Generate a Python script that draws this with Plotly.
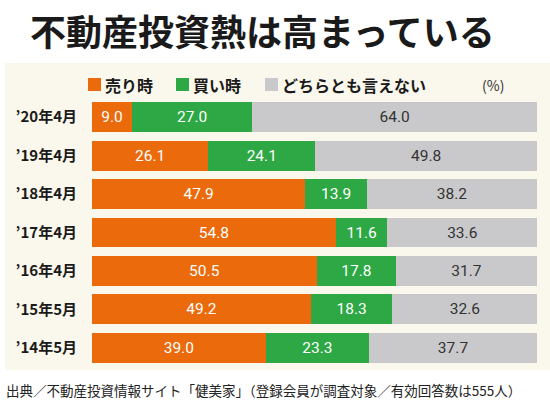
import plotly.graph_objects as go

categories = ["’20年4月", "’19年4月", "’18年4月", "’17年4月", "’16年4月", "’15年5月", "’14年5月"]
series_names = ["売り時", "買い時", "どちらとも言えない"]
sell = [9.0, 26.1, 47.9, 54.8, 50.5, 49.2, 39.0]
buy = [27.0, 24.1, 13.9, 11.6, 17.8, 18.3, 23.3]
neither = [64.0, 49.8, 38.2, 33.6, 31.7, 32.6, 37.7]
title_text = "不動産投資熱は高まっている"
unit_text = "(%)"
source_text = "出典／不動産投資情報サイト「健美家」（登録会員が調査対象／有効回答数は555人）"

colors = ["#EA6A0C", "#2DA844", "#C9C9CB"]
text_colors = ["#FFFFFF", "#FFFFFF", "#333333"]
FONT = "Noto Sans CJK JP"

W, H = 550, 405
L, R, T, B = 92, 13, 98, 38
pw, ph = W - L - R, H - T - B

def px_x(p):
    return (p - L) / pw

def px_y(p):
    return (H - B - p) / ph

fig = go.Figure()
for name, vals, c, tc in zip(series_names, [sell, buy, neither], colors, text_colors):
    fig.add_trace(go.Bar(
        y=categories, x=vals, name=name, orientation="h",
        marker=dict(color=c, line=dict(width=0)),
        text=[f"{v:.1f}" for v in vals], textposition="inside",
        insidetextanchor="middle",
        textfont=dict(family="Roboto", size=15.5, color=tc),
        hoverinfo="skip", showlegend=False,
    ))

shapes = [dict(type="rect", xref="paper", yref="paper", layer="below",
               x0=px_x(5), x1=px_x(550), y0=px_y(370), y1=px_y(63),
               fillcolor="#FAF7EC", line=dict(width=0))]
annotations = [
    dict(text=title_text, xref="paper", yref="paper", x=px_x(262), y=px_y(30),
         xanchor="center", yanchor="middle", showarrow=False,
         font=dict(family=FONT, size=36, color="#1A1A1A", weight="bold")),
    dict(text=source_text, xref="paper", yref="paper", x=px_x(4), y=px_y(390),
         xanchor="left", yanchor="middle", showarrow=False,
         font=dict(family=FONT, size=13.5, color="#222222")),
    dict(text=unit_text, xref="paper", yref="paper", x=px_x(506), y=px_y(85),
         xanchor="right", yanchor="middle", showarrow=False,
         font=dict(family=FONT, size=14, color="#333333")),
]
leg_x = [88, 176, 265]
for name, c, lx in zip(series_names, colors, leg_x):
    shapes.append(dict(type="rect", xref="paper", yref="paper",
                       x0=px_x(lx), x1=px_x(lx + 13), y0=px_y(91), y1=px_y(78),
                       fillcolor=c, line=dict(width=0)))
    annotations.append(dict(text=name, xref="paper", yref="paper", x=px_x(lx + 15),
                            y=px_y(85), xanchor="left", yanchor="middle", showarrow=False,
                            font=dict(family=FONT, size=16, color="#1A1A1A", weight="bold")))

fig.update_layout(
    width=W, height=H, margin=dict(l=L, r=R, t=T, b=B),
    paper_bgcolor="#FFFFFF", plot_bgcolor="rgba(0,0,0,0)",
    barmode="stack", bargap=0.22,
    shapes=shapes, annotations=annotations,
    xaxis=dict(range=[0, 100], visible=False, fixedrange=True),
    yaxis=dict(autorange="reversed", showgrid=False, showline=False, zeroline=False,
               ticks="", ticklabelstandoff=14, fixedrange=True,
               tickfont=dict(family=FONT, size=15, color="#1A1A1A", weight="bold")),
    uniformtext=dict(minsize=8),
)
fig.write_html("out.html", config={"displayModeBar": False},
               post_script="document.body.style.margin='0';")
